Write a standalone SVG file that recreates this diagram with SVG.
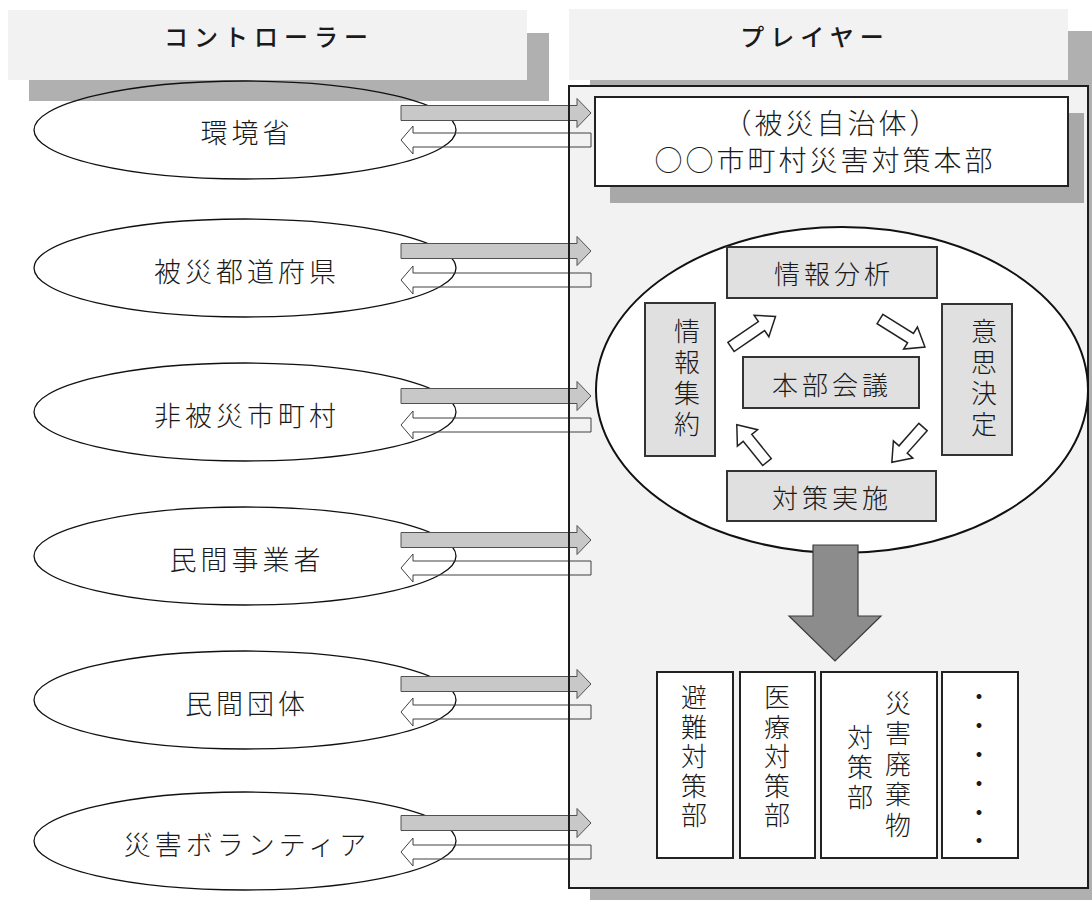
<svg xmlns="http://www.w3.org/2000/svg" width="1092" height="900" viewBox="0 0 1092 900">
<style>
text { font-family: 'Noto Sans CJK JP', 'Noto Sans CJK SC', sans-serif; fill: #1a1a1a; }
.hdr { font-size: 24px; font-weight: 500; letter-spacing: 6px; text-anchor: middle; }
.lbl { font-size: 27px; letter-spacing: 4px; text-anchor: middle; font-weight: 300; }
.ctl { fill: none; stroke: #111; stroke-width: 1.3; }
.ga { fill: #c8c8c8; stroke: #505050; stroke-width: 1; }
.wa { fill: none; stroke: #404040; stroke-width: 1; }
.gbox { fill: #e0e0e0; stroke: #333; stroke-width: 2; }
.wbox { fill: #fff; stroke: #222; stroke-width: 2; }
.ha { fill: #fff; stroke: #222; stroke-width: 1.5; }
.in { font-size: 26px; letter-spacing: 4px; text-anchor: middle; font-weight: 300; }
.v { font-size: 26px; text-anchor: middle; font-weight: 300; writing-mode: vertical-rl; }
.shadow { fill: #b0b0b0; }
.light { fill: #f2f2f2; }
</style>
<rect width="1092" height="900" fill="#fff"/>

<g id="header-controller">
  <rect class="shadow" x="29" y="33" width="520" height="68"/>
  <rect class="light" x="8" y="10" width="519" height="70"/>
  <text class="hdr" x="269" y="46">コントローラー</text>
</g>
<g id="header-player">
  <rect class="shadow" x="590" y="31" width="510" height="80"/>
  <rect class="light" x="569" y="9" width="499" height="71"/>
  <text class="hdr" x="815" y="46">プレイヤー</text>
</g>

<g id="player-area-bg">
  <rect class="shadow" x="590" y="107" width="510" height="800"/>
  <rect class="light" x="569" y="86" width="519" height="802"/>
</g>

<g id="controller-1">
  <ellipse class="ctl" cx="245" cy="130" rx="211" ry="49"/>
  <text class="lbl" x="247" y="143">環境省</text>
</g>
<g id="controller-2">
  <ellipse class="ctl" cx="245" cy="268" rx="211" ry="49"/>
  <text class="lbl" x="247" y="282">被災都道府県</text>
</g>
<g id="controller-3">
  <ellipse class="ctl" cx="245" cy="412" rx="211" ry="49"/>
  <text class="lbl" x="247" y="426">非被災市町村</text>
</g>
<g id="controller-4">
  <ellipse class="ctl" cx="245" cy="556" rx="211" ry="49"/>
  <text class="lbl" x="247" y="570">民間事業者</text>
</g>
<g id="controller-5">
  <ellipse class="ctl" cx="245" cy="700" rx="211" ry="49"/>
  <text class="lbl" x="247" y="714">民間団体</text>
</g>
<g id="controller-6">
  <ellipse class="ctl" cx="245" cy="841" rx="211" ry="49"/>
  <text class="lbl" x="247" y="855">災害ボランティア</text>
</g>

<g id="connectors">
  <path class="wa" d="M591,133 H413 V126 L401,140 L413,154 V147 H591 Z"/>
  <path class="wa" d="M591,273 H413 V266 L401,280 L413,294 V287 H591 Z"/>
  <path class="wa" d="M591,418 H413 V411 L401,425 L413,439 V432 H591 Z"/>
  <path class="wa" d="M591,561 H413 V554 L401,568 L413,582 V575 H591 Z"/>
  <path class="wa" d="M591,705 H413 V698 L401,712 L413,726 V719 H591 Z"/>
  <path class="wa" d="M591,845 H413 V838 L401,852 L413,866 V859 H591 Z"/>
  <path class="ga" d="M401,105.5 H577 V98.5 L591,113 L577,127.5 V120.5 H401 Z"/>
  <path class="ga" d="M401,243.5 H577 V236.5 L591,251 L577,265.5 V258.5 H401 Z"/>
  <path class="ga" d="M401,388.5 H577 V381.5 L591,396 L577,410.5 V403.5 H401 Z"/>
  <path class="ga" d="M401,532.5 H577 V525.5 L591,540 L577,554.5 V547.5 H401 Z"/>
  <path class="ga" d="M401,676.5 H577 V669.5 L591,684 L577,698.5 V691.5 H401 Z"/>
  <path class="ga" d="M401,815.5 H577 V808.5 L591,823 L577,837.5 V830.5 H401 Z"/>
</g>

<g id="player-area-border">
  <rect x="569" y="86" width="519" height="802" fill="none" stroke="#1e1e1e" stroke-width="2"/>
</g>

<g id="hq-title">
  <rect x="610" y="113" width="474" height="90" fill="#a8a8a8"/>
  <rect class="wbox" x="595" y="97" width="473" height="89"/>
  <text x="832" y="134" font-size="28" letter-spacing="3" text-anchor="middle" font-weight="300">（被災自治体）</text>
  <text x="825" y="171" font-size="28" letter-spacing="3" text-anchor="middle" font-weight="300">○○市町村災害対策本部</text>
</g>

<g id="hq-cycle">
  <ellipse cx="842" cy="390" rx="246" ry="163" fill="#fff" stroke="#111" stroke-width="2"/>
</g>
<g id="node-analysis">
  <rect class="gbox" x="727" y="247" width="210" height="51"/>
  <text class="in" x="834" y="284">情報分析</text>
</g>
<g id="node-collect">
  <rect class="gbox" x="645" y="303" width="70" height="153"/>
  <text class="v" x="687" y="380" letter-spacing="4.7">情報集約</text>
</g>
<g id="node-meeting">
  <rect class="gbox" x="743" y="357" width="176" height="51"/>
  <text class="in" x="832" y="395">本部会議</text>
</g>
<g id="node-decision">
  <rect class="gbox" x="942" y="304" width="70" height="151"/>
  <text class="v" x="984" y="380" letter-spacing="4.7">意思決定</text>
</g>
<g id="node-implement">
  <rect class="gbox" x="727" y="471" width="209" height="50"/>
  <text class="in" x="832" y="508">対策実施</text>
</g>
<g id="cycle-arrows">
  <path class="ha" transform="translate(731,347) rotate(-34.5)" d="M0,-5.5 H37 V-13 L54,0 L37,13 V5.5 H0 Z"/>
  <path class="ha" transform="translate(880,319) rotate(32)" d="M0,-5.5 H36 V-13 L53,0 L36,13 V5.5 H0 Z"/>
  <path class="ha" transform="translate(923,427) rotate(131.5)" d="M0,-5.5 H30 V-13 L47,0 L30,13 V5.5 H0 Z"/>
  <path class="ha" transform="translate(767,462) rotate(-129)" d="M0,-5.5 H31 V-13 L48,0 L31,13 V5.5 H0 Z"/>
</g>

<g id="down-arrow">
  <path d="M813,545 H858 V616 H881 L835,661 L789,616 H813 Z" fill="#8c8c8c" stroke="#3c3c3c" stroke-width="1.2"/>
</g>

<g id="dept-evac">
  <rect class="wbox" x="657" y="672" width="76" height="186"/>
  <text class="v" x="694" y="758" letter-spacing="3.5">避難対策部</text>
</g>
<g id="dept-medical">
  <rect class="wbox" x="740" y="672" width="75" height="186"/>
  <text class="v" x="777" y="758" letter-spacing="3.5">医療対策部</text>
</g>
<g id="dept-waste">
  <rect class="wbox" x="821" y="672" width="116" height="186"/>
  <text class="v" x="898" y="766" letter-spacing="4.5">災害廃棄物</text>
  <text class="v" x="860" y="769" letter-spacing="4">対策部</text>
</g>
<g id="dept-more">
  <rect class="wbox" x="942" y="672" width="76" height="186"/>
  <text class="v" x="979" y="770" letter-spacing="2.8">・・・・・・</text>
</g>
</svg>
